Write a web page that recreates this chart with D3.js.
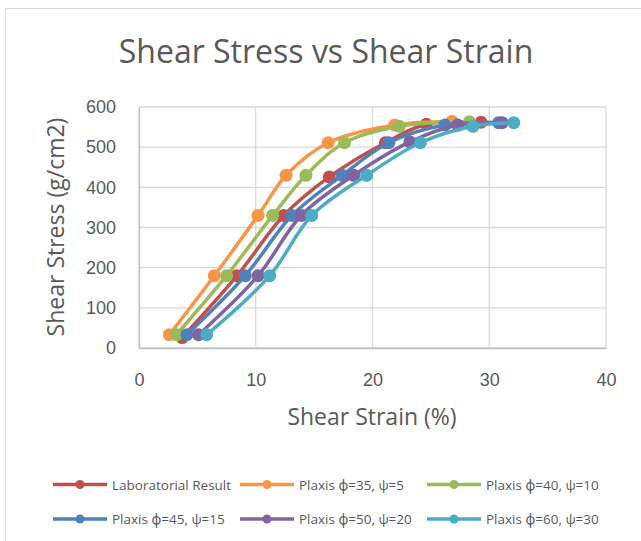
<!DOCTYPE html>
<html>
<head>
<meta charset="utf-8">
<script src="https://cdn.jsdelivr.net/npm/d3@7"></script>
<style>
  body { margin: 0; background: #fff; }
  svg { display: block; font-family: "Open Sans", "Noto Sans", sans-serif; }
</style>
</head>
<body>
<div id="chart"></div>
<script>
// series names + colours (Excel 2010 palette)
const seriesNames = ["Laboratorial Result", "Plaxis \u03d5=35, \u03c8=5", "Plaxis \u03d5=40, \u03c8=10",
                     "Plaxis \u03d5=45, \u03c8=15", "Plaxis \u03d5=50, \u03c8=20", "Plaxis \u03d5=60, \u03c8=30"];
const seriesColors = ["#C0504D", "#F79646", "#9BBB59", "#4F81BD", "#8064A2", "#4BACC6"];

// shear strain (%) per series
const labStrain   = [3.7, 8.4, 12.4, 16.3, 21.1, 24.6, 29.3];
const p35Strain   = [2.6, 6.45, 10.2, 12.6, 16.2, 21.9, 26.8];
const p40Strain   = [3.2, 7.5, 11.45, 14.3, 17.6, 22.3, 28.3];
const p45Strain   = [4.1, 9.1, 13.1, 17.4, 21.4, 26.2, 30.8];
const p50Strain   = [5.1, 10.2, 13.9, 18.4, 23.2, 27.3, 31.1];
const p60Strain   = [5.8, 11.2, 14.8, 19.5, 24.1, 28.6, 32.1];

// shear stress (g/cm2) per series
const labStress   = [26, 180, 330, 426, 511, 557, 562];
const p35Stress   = [33, 180, 330, 430, 511, 555, 564];
const p40Stress   = [33, 180, 330, 430, 511, 552, 563];
const p45Stress   = [33, 180, 330, 430, 511, 555, 561];
const p50Stress   = [33, 180, 330, 430, 513, 555, 561];
const p60Stress   = [33, 180, 330, 430, 511, 552, 561];

const xTicks = [0, 10, 20, 30, 40];
const yTicks = [0, 100, 200, 300, 400, 500, 600];

const strains = [labStrain, p35Strain, p40Strain, p45Strain, p50Strain, p60Strain];
const stresses = [labStress, p35Stress, p40Stress, p45Stress, p50Stress, p60Stress];

const width = 641, height = 541;
const textColor = "#595959";
const gridColor = "#d9d9d9";

const svg = d3.select("#chart").append("svg")
  .attr("width", width)
  .attr("height", height);

// chart outline (cropped on the right/bottom)
svg.append("rect")
  .attr("x", 5.5).attr("y", 8.5)
  .attr("width", 700).attr("height", 600)
  .attr("fill", "#fff")
  .attr("stroke", gridColor)
  .attr("stroke-width", 1);

let xScale = d3.scaleLinear().domain([0, 40]).range([139, 606]);
let yScale = d3.scaleLinear().domain([0, 600]).range([348, 107]);

// gridlines
svg.append("g")
  .selectAll("line.h")
  .data(yTicks)
  .enter()
  .append("line")
  .attr("x1", xScale(0)).attr("x2", xScale(40))
  .attr("y1", d => yScale(d)).attr("y2", d => yScale(d))
  .attr("stroke", gridColor).attr("stroke-width", 1.3);

svg.append("g")
  .selectAll("line.v")
  .data(xTicks)
  .enter()
  .append("line")
  .attr("x1", d => xScale(d)).attr("x2", d => xScale(d))
  .attr("y1", yScale(0)).attr("y2", yScale(600))
  .attr("stroke", gridColor).attr("stroke-width", 1.3);

// axes
let xAxis = d3.axisBottom(xScale).tickValues(xTicks).tickSize(0).tickPadding(25);
let gx = svg.append("g")
  .attr("transform", `translate(0, ${yScale(0)})`)
  .call(xAxis);
gx.select(".domain").attr("stroke", "#bfbfbf").attr("stroke-width", 1.3);
gx.selectAll("text").attr("fill", textColor).style("font-size", "18px");

let yAxis = d3.axisLeft(yScale).tickValues(yTicks).tickSize(0).tickPadding(23);
let gy = svg.append("g")
  .attr("transform", `translate(${xScale(0)}, 0)`)
  .call(yAxis);
gy.select(".domain").attr("stroke", "#bfbfbf").attr("stroke-width", 1.3);
gy.selectAll("text").attr("fill", textColor).style("font-size", "18px");

// title
svg.append("text")
  .attr("x", 326).attr("y", 63)
  .attr("text-anchor", "middle")
  .attr("fill", textColor)
  .style("font-size", "32px")
  .text("Shear Stress vs Shear Strain");

// axis titles
svg.append("text")
  .attr("x", 372).attr("y", 425)
  .attr("text-anchor", "middle")
  .attr("fill", textColor)
  .style("font-size", "23px")
  .text("Shear Strain (%)");

svg.append("text")
  .attr("transform", "rotate(-90)")
  .attr("x", -227).attr("y", 64)
  .attr("text-anchor", "middle")
  .attr("fill", textColor)
  .style("font-size", "23px")
  .text("Shear Stress (g/cm2)");

// series
const drawLine = d3.line()
  .x(d => xScale(d[0]))
  .y(d => yScale(d[1]))
  .curve(d3.curveCatmullRom.alpha(0.5));

seriesNames.forEach((name, i) => {
  let pts = strains[i].map((s, j) => [s, stresses[i][j]]);
  let g = svg.append("g").attr("class", "series");
  g.append("path")
    .attr("d", drawLine(pts))
    .attr("fill", "none")
    .attr("stroke", seriesColors[i])
    .attr("stroke-width", 3.5)
    .attr("stroke-linejoin", "round");
  g.selectAll("circle")
    .data(pts)
    .enter()
    .append("circle")
    .attr("cx", d => xScale(d[0]))
    .attr("cy", d => yScale(d[1]))
    .attr("r", 6.5)
    .attr("fill", seriesColors[i]);
});

// legend
const legendX = [53, 240, 427];
const legendY = [484.5, 519];
seriesNames.forEach((name, i) => {
  let lx = legendX[i % 3], ly = legendY[Math.floor(i / 3)];
  let g = svg.append("g").attr("transform", `translate(${lx}, ${ly})`);
  g.append("line")
    .attr("x1", 0).attr("x2", 54)
    .attr("y1", 0).attr("y2", 0)
    .attr("stroke", seriesColors[i])
    .attr("stroke-width", 3.5);
  g.append("circle").attr("cx", 27).attr("cy", 0).attr("r", 4.5).attr("fill", seriesColors[i]);
  g.append("text")
    .attr("x", 59).attr("y", 5)
    .attr("fill", textColor)
    .style("font-size", "13.5px")
    .text(name);
});
</script>
</body>
</html>
